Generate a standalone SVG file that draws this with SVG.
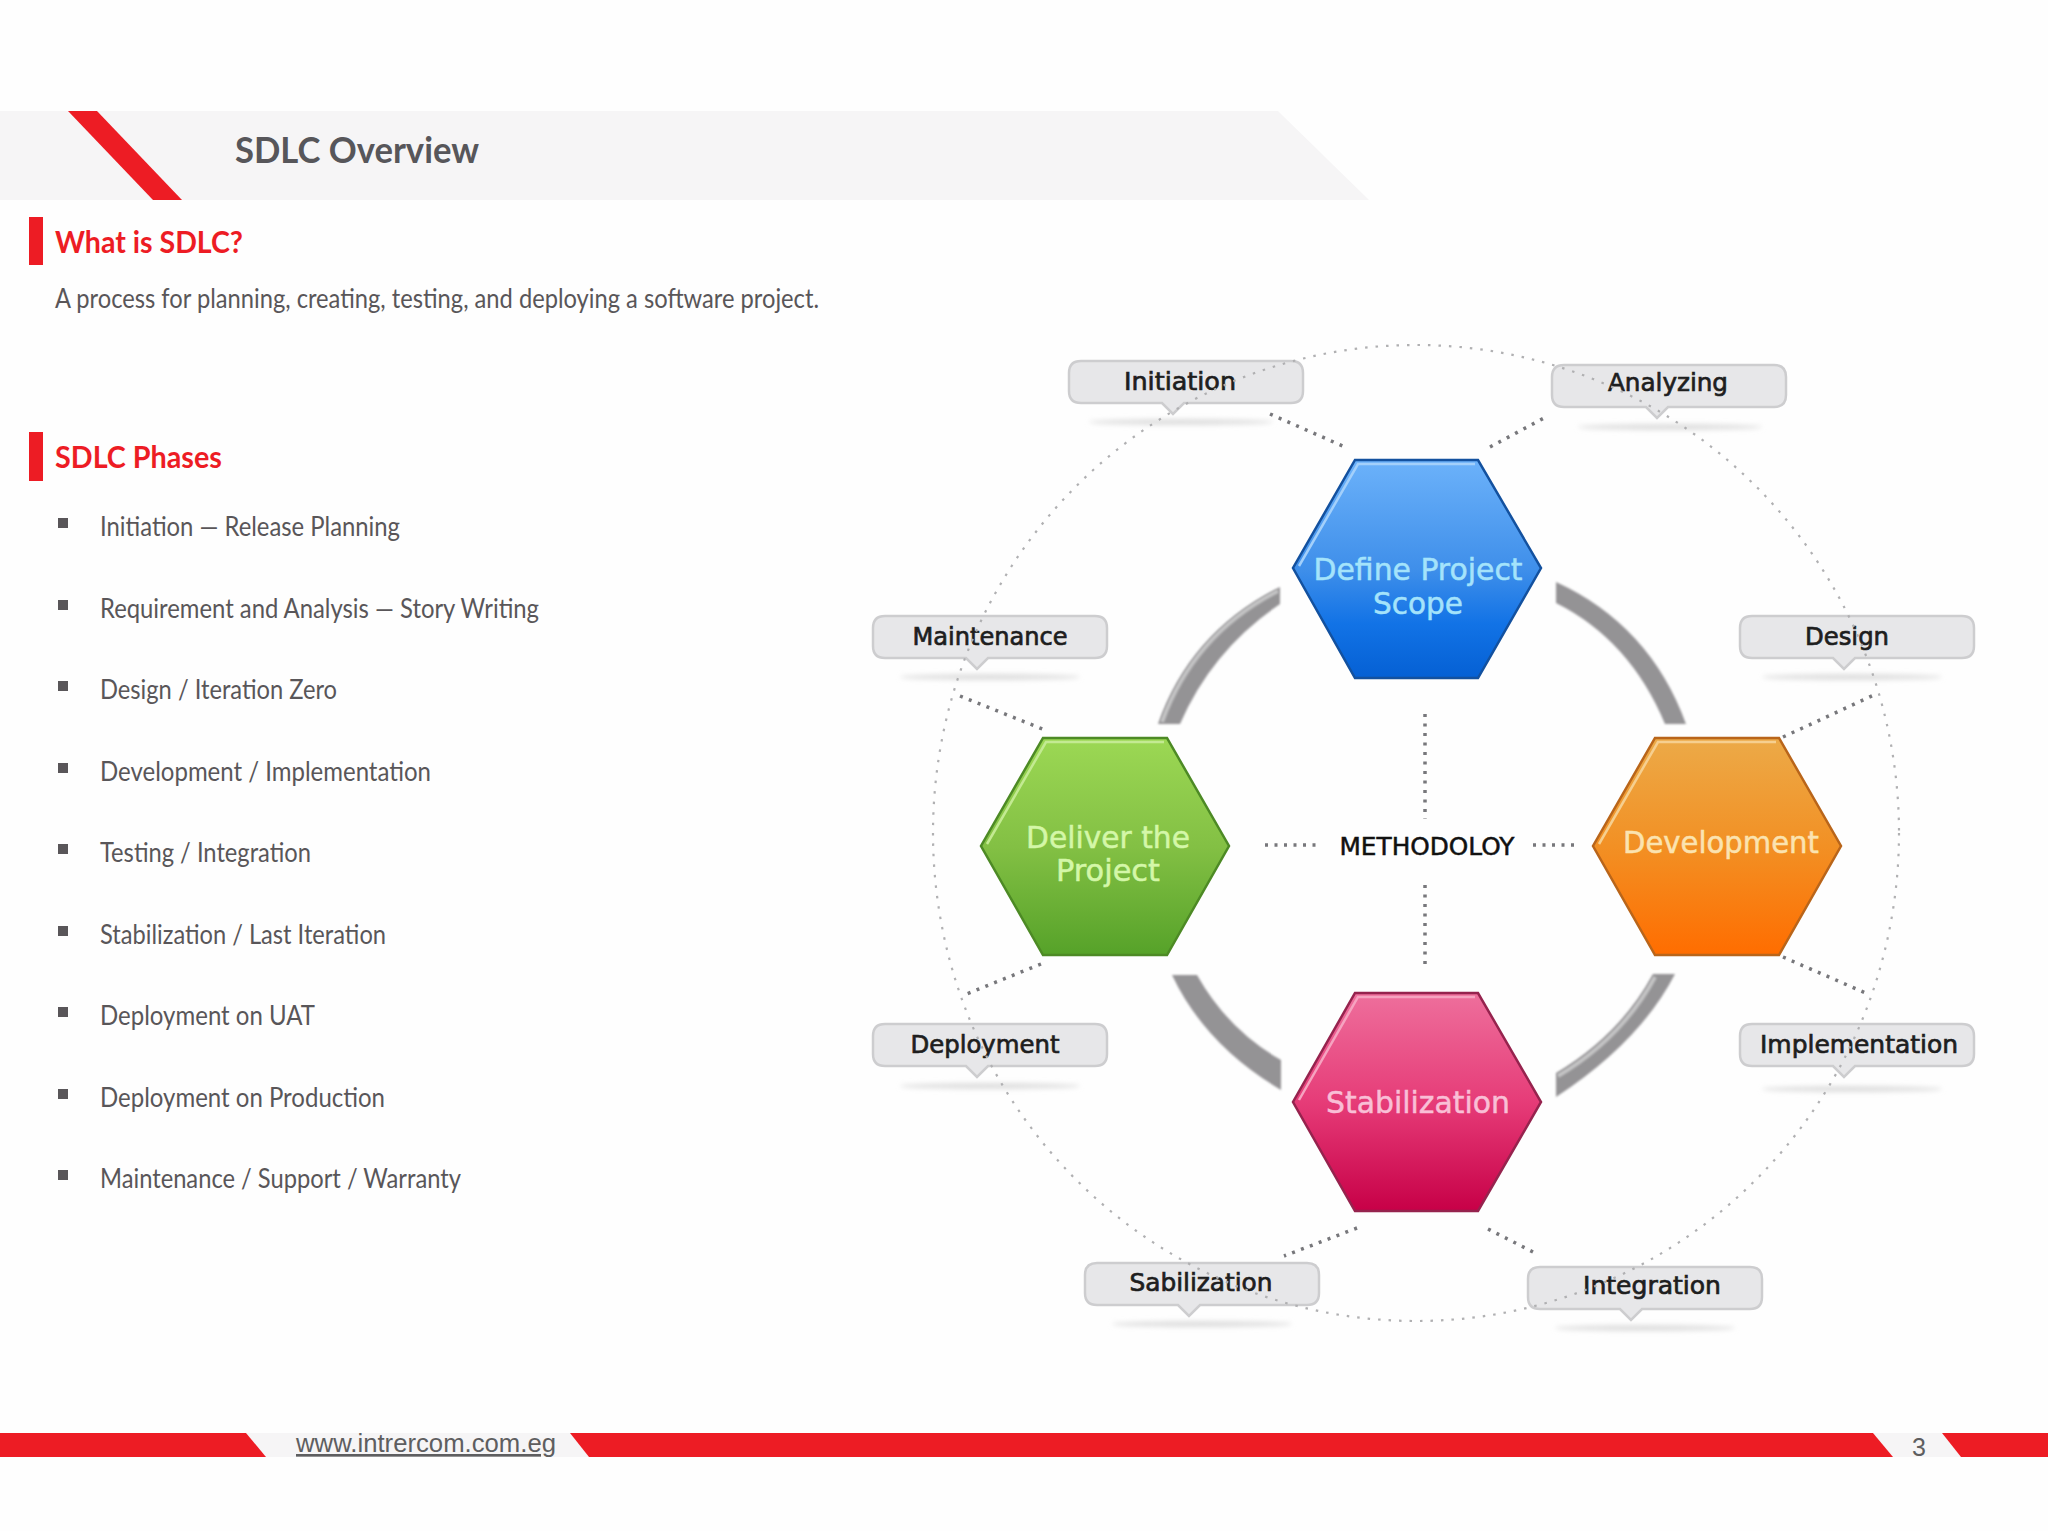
<svg xmlns="http://www.w3.org/2000/svg" width="2048" height="1531" viewBox="0 0 2048 1531">
<style>
.body{font-family:"Lato","Liberation Sans",sans-serif;font-size:26px;fill:#595659}
.head{font-family:"Lato","Liberation Sans",sans-serif;font-size:31px;font-weight:700;fill:#ed1c24}
.red{fill:#ed1c24}
.bul{fill:#595659}
.lab{fill:#e7e7e9;stroke:#cdcdcf;stroke-width:2.5}
.labt{font-family:"DejaVu Sans",sans-serif;font-size:24px;font-weight:400;fill:#1e1e1e;stroke:#1e1e1e;stroke-width:.7;text-anchor:middle}
.hext{font-family:"DejaVu Sans",sans-serif;font-size:30px;text-anchor:middle;stroke-width:.5}
.dot{fill:none;stroke:#77777b;stroke-width:3.5;stroke-dasharray:3 6.5}
.ring{fill:none;stroke:#b0b0b2;stroke-width:2.2;stroke-dasharray:2.5 8}
.shadow{fill:#dedede;filter:url(#b)}
.arc{fill:#949395;filter:url(#s)}
.hi{fill:none;stroke:#c4c4c5;stroke-width:4;filter:url(#s)}
</style>
<defs>
<filter id="b" x="-20%" y="-200%" width="140%" height="500%"><feGaussianBlur stdDeviation="2.5"/></filter>
<filter id="s" x="-10%" y="-10%" width="120%" height="120%"><feGaussianBlur stdDeviation=".8"/></filter>
<linearGradient id="gb" x1="0" y1="0" x2="0" y2="1"><stop offset="0" stop-color="#6cb2fa"/><stop offset=".5" stop-color="#3f8fea"/><stop offset=".75" stop-color="#1273e6"/><stop offset="1" stop-color="#0560d4"/></linearGradient>
<linearGradient id="gg" x1="0" y1="0" x2="0" y2="1"><stop offset="0" stop-color="#9cd854"/><stop offset=".5" stop-color="#83c044"/><stop offset="1" stop-color="#56a229"/></linearGradient>
<linearGradient id="go" x1="0" y1="0" x2="0" y2="1"><stop offset="0" stop-color="#ecaa48"/><stop offset=".5" stop-color="#f29024"/><stop offset="1" stop-color="#ff6d00"/></linearGradient>
<linearGradient id="gp" x1="0" y1="0" x2="0" y2="1"><stop offset="0" stop-color="#ee6f9c"/><stop offset=".5" stop-color="#e63c78"/><stop offset="1" stop-color="#c70047"/></linearGradient>
</defs>
<rect width="2048" height="1531" fill="#fefefe"/>
<g id="header">
<polygon points="0,111 1278,111 1369,200 0,200" fill="#f6f5f6"/>
<polygon points="68,111 97,111 182,200 153,200" class="red"/>
<text x="235" y="163" font-family="Lato,'Liberation Sans',sans-serif" font-size="37" font-weight="700" fill="#57565a" textLength="244" lengthAdjust="spacingAndGlyphs">SDLC Overview</text>
</g>
<g id="what-is">
<rect x="29" y="217" width="14" height="48" class="red"/>
<text x="55" y="253" class="head" textLength="188" lengthAdjust="spacingAndGlyphs">What is SDLC?</text>
<text x="55" y="308" class="body" textLength="764" lengthAdjust="spacingAndGlyphs">A process for planning, creating, testing, and deploying a software project.</text>
</g>
<g id="phases">
<rect x="29" y="432" width="14" height="49" class="red"/>
<text x="55" y="468" class="head" textLength="167" lengthAdjust="spacingAndGlyphs">SDLC Phases</text>
<rect x="58" y="518" width="10" height="10" class="bul"/><text x="100" y="536" class="body" textLength="300" lengthAdjust="spacingAndGlyphs">Initiation — Release Planning</text>
<rect x="58" y="600" width="10" height="10" class="bul"/><text x="100" y="618" class="body" textLength="439" lengthAdjust="spacingAndGlyphs">Requirement and Analysis — Story Writing</text>
<rect x="58" y="681" width="10" height="10" class="bul"/><text x="100" y="699" class="body" textLength="237" lengthAdjust="spacingAndGlyphs">Design / Iteration Zero</text>
<rect x="58" y="763" width="10" height="10" class="bul"/><text x="100" y="781" class="body" textLength="331" lengthAdjust="spacingAndGlyphs">Development / Implementation</text>
<rect x="58" y="844" width="10" height="10" class="bul"/><text x="100" y="862" class="body" textLength="211" lengthAdjust="spacingAndGlyphs">Testing / Integration</text>
<rect x="58" y="926" width="10" height="10" class="bul"/><text x="100" y="944" class="body" textLength="286" lengthAdjust="spacingAndGlyphs">Stabilization / Last Iteration</text>
<rect x="58" y="1007" width="10" height="10" class="bul"/><text x="100" y="1025" class="body" textLength="215" lengthAdjust="spacingAndGlyphs">Deployment on UAT</text>
<rect x="58" y="1089" width="10" height="10" class="bul"/><text x="100" y="1107" class="body" textLength="285" lengthAdjust="spacingAndGlyphs">Deployment on Production</text>
<rect x="58" y="1170" width="10" height="10" class="bul"/><text x="100" y="1188" class="body" textLength="361" lengthAdjust="spacingAndGlyphs">Maintenance / Support / Warranty</text>
</g>
<g id="footer">
<polygon points="246,1433 570,1433 589,1457 266,1457" fill="#f6f5f6"/>
<polygon points="1873,1433 1942,1433 1961,1457 1893,1457" fill="#f6f5f6"/>
<polygon points="0,1433 246,1433 266,1457 0,1457" class="red"/>
<polygon points="570,1433 1873,1433 1893,1457 589,1457" class="red"/>
<polygon points="1942,1433 2048,1433 2048,1457 1961,1457" class="red"/>
<text x="296" y="1452" font-family="Liberation Sans,sans-serif" font-size="26.5" fill="#5e5e60" text-decoration="underline" textLength="260" lengthAdjust="spacingAndGlyphs">www.intrercom.com.eg</text>
<text x="1919" y="1456" font-family="Liberation Sans,sans-serif" font-size="25" fill="#5e5e60" text-anchor="middle">3</text>
</g>
<g id="node-initiation"><ellipse cx="1181" cy="422" rx="92" ry="3" class="shadow"/><path d="M1081 361H1291Q1303 361 1303 373V391Q1303 403 1291 403H1184L1173 414L1162 403H1081Q1069 403 1069 391V373Q1069 361 1081 361Z" class="lab"/><text x="1180" y="390" class="labt" textLength="112" lengthAdjust="spacingAndGlyphs">Initiation</text></g>
<g id="node-analyzing"><ellipse cx="1670" cy="427" rx="92" ry="3" class="shadow"/><path d="M1564 365H1774Q1786 365 1786 377V395Q1786 407 1774 407H1668L1657 418L1646 407H1564Q1552 407 1552 395V377Q1552 365 1564 365Z" class="lab"/><text x="1668" y="391" class="labt" textLength="120" lengthAdjust="spacingAndGlyphs">Analyzing</text></g>
<g id="node-maintenance"><ellipse cx="990" cy="677" rx="90" ry="3" class="shadow"/><path d="M885 616H1095Q1107 616 1107 628V646Q1107 658 1095 658H988L977 669L966 658H885Q873 658 873 646V628Q873 616 885 616Z" class="lab"/><text x="990" y="645" class="labt" textLength="155" lengthAdjust="spacingAndGlyphs">Maintenance</text></g>
<g id="node-design"><ellipse cx="1852" cy="677" rx="90" ry="3" class="shadow"/><path d="M1752 616H1962Q1974 616 1974 628V646Q1974 658 1962 658H1855L1844 669L1833 658H1752Q1740 658 1740 646V628Q1740 616 1752 616Z" class="lab"/><text x="1847" y="645" class="labt" textLength="84" lengthAdjust="spacingAndGlyphs">Design</text></g>
<g id="node-deployment"><ellipse cx="990" cy="1086" rx="90" ry="3" class="shadow"/><path d="M885 1024H1095Q1107 1024 1107 1036V1054Q1107 1066 1095 1066H988L977 1077L966 1066H885Q873 1066 873 1054V1036Q873 1024 885 1024Z" class="lab"/><text x="985" y="1053" class="labt" textLength="149" lengthAdjust="spacingAndGlyphs">Deployment</text></g>
<g id="node-implementation"><ellipse cx="1852" cy="1089" rx="90" ry="3" class="shadow"/><path d="M1752 1024H1962Q1974 1024 1974 1036V1054Q1974 1066 1962 1066H1855L1844 1077L1833 1066H1752Q1740 1066 1740 1054V1036Q1740 1024 1752 1024Z" class="lab"/><text x="1859" y="1053" class="labt" textLength="198" lengthAdjust="spacingAndGlyphs">Implementation</text></g>
<g id="node-sabilization"><ellipse cx="1202" cy="1324" rx="90" ry="3" class="shadow"/><path d="M1097 1263H1307Q1319 1263 1319 1275V1293Q1319 1305 1307 1305H1200L1189 1316L1178 1305H1097Q1085 1305 1085 1293V1275Q1085 1263 1097 1263Z" class="lab"/><text x="1201" y="1291" class="labt" textLength="143" lengthAdjust="spacingAndGlyphs">Sabilization</text></g>
<g id="node-integration"><ellipse cx="1645" cy="1328" rx="90" ry="3" class="shadow"/><path d="M1540 1267H1750Q1762 1267 1762 1279V1297Q1762 1309 1750 1309H1642L1631 1320L1620 1309H1540Q1528 1309 1528 1297V1279Q1528 1267 1540 1267Z" class="lab"/><text x="1652" y="1294" class="labt" textLength="138" lengthAdjust="spacingAndGlyphs">Integration</text></g>
<g id="node-define">
<polygon points="1355,460 1478,460 1541,568 1478,678 1355,678 1293,568" fill="url(#gb)" stroke="#13519f" stroke-width="2.5"/>
<path d="M1299 566L1358 464H1475" fill="none" stroke="#a3d0fb" stroke-width="2.5"/>
<text x="1418" y="580" class="hext" fill="#a4e3fb" stroke="#a4e3fb" textLength="209" lengthAdjust="spacingAndGlyphs">Define Project</text>
<text x="1418" y="614" class="hext" fill="#a4e3fb" stroke="#a4e3fb" textLength="90" lengthAdjust="spacingAndGlyphs">Scope</text>
</g>
<g id="node-deliver">
<polygon points="1043,738 1167,738 1229,846 1167,955 1043,955 981,846" fill="url(#gg)" stroke="#4d8a25" stroke-width="2.5"/>
<path d="M987 844L1046 742H1164" fill="none" stroke="#c3ea92" stroke-width="2.5"/>
<text x="1108" y="848" class="hext" fill="#d4f7a8" stroke="#d4f7a8" textLength="164" lengthAdjust="spacingAndGlyphs">Deliver the</text>
<text x="1108" y="881" class="hext" fill="#d4f7a8" stroke="#d4f7a8" textLength="104" lengthAdjust="spacingAndGlyphs">Project</text>
</g>
<g id="node-development">
<polygon points="1655,738 1779,738 1841,846 1779,955 1655,955 1593,846" fill="url(#go)" stroke="#b9651a" stroke-width="2.5"/>
<path d="M1599 844L1658 742H1776" fill="none" stroke="#f6cf8f" stroke-width="2.5"/>
<text x="1721" y="853" class="hext" fill="#fbe3b0" stroke="#fbe3b0" textLength="196" lengthAdjust="spacingAndGlyphs">Development</text>
</g>
<g id="node-stabilization">
<polygon points="1355,993 1478,993 1541,1102 1478,1211 1355,1211 1293,1102" fill="url(#gp)" stroke="#96234e" stroke-width="2.5"/>
<path d="M1299 1100L1358 997H1475" fill="none" stroke="#f6a3c0" stroke-width="2.5"/>
<text x="1418" y="1113" class="hext" fill="#f9bfd6" stroke="#f9bfd6" textLength="184" lengthAdjust="spacingAndGlyphs">Stabilization</text>
</g>
<g id="center-label"><text x="1427" y="855" font-family="DejaVu Sans,sans-serif" font-size="24" stroke="#111" stroke-width=".5" fill="#111" text-anchor="middle" textLength="175" lengthAdjust="spacingAndGlyphs">METHODOLOY</text></g>
<g id="connectors">
<ellipse cx="1416" cy="833" rx="483" ry="488" class="ring"/>
<path d="M1270 414L1345 447M1490 447L1544 418M960 696L1045 730M1041 964L964 995M1783 737L1874 695M1783 957L1868 994M1357 1228L1284 1256M1488 1229L1537 1254M1425 714V819M1425 885V970M1265 845H1320M1533 845H1580" class="dot"/>
<path d="M1158 724Q1190 632 1280 587L1280 604Q1212 650 1180 724Z" class="arc"/>
<path d="M1162 722Q1194 634 1278 591" class="hi"/>
<path d="M1556 582Q1650 625 1686 724L1665 724Q1630 640 1556 603Z" class="arc"/>
<path d="M1675 974Q1640 1042 1556 1097L1556 1073Q1620 1035 1653 974Z" class="arc"/>
<path d="M1558 1076Q1622 1038 1655 977" class="hi"/>
<path d="M1172 975Q1205 1045 1281 1090L1281 1060Q1228 1030 1197 975Z" class="arc"/>
</g>
</svg>
